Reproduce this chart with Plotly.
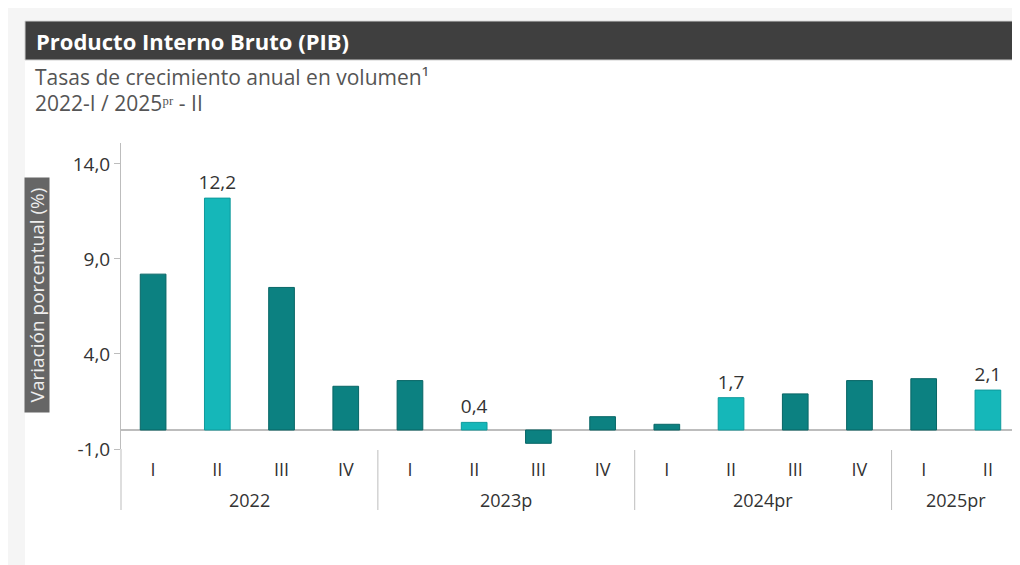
import plotly.graph_objects as go

# datos
quarters = ["I", "II", "III", "IV", "I", "II", "III", "IV", "I", "II", "III", "IV", "I", "II"]
years = ["2022", "2023p", "2024pr", "2025pr"]
year_sizes = [4, 4, 4, 2]
values = [8.2, 12.2, 7.5, 2.3, 2.6, 0.4, -0.7, 0.7, 0.3, 1.7, 1.9, 2.6, 2.7, 2.1]
highlight = [False, True, False, False, False, True, False, False, False, True, False, False, False, True]
y_ticks = [-1.0, 4.0, 9.0, 14.0]
y_ticktext = ["-1,0", "4,0", "9,0", "14,0"]

DARK = "#0c8181"
LIGHT = "#15b7b9"
FONT = "Open Sans"

# page has an 8px body margin; positions below are in screenshot pixels
OFF = 8
L, T, W, H = 121, 143, 899, 306          # plot area (screenshot coords)
FIG_W, FIG_H = 1020 - OFF, 565 - OFF


def px(x):
    return (x - L) / W


def py(y):
    return (T + H - y) / H


x = list(range(len(values)))
colors = [LIGHT if h else DARK for h in highlight]
line_colors = ["#0e9a9c" if h else "#086666" for h in highlight]
labels = [f"{v:.1f}".replace(".", ",") if h else "" for v, h in zip(values, highlight)]

fig = go.Figure()
fig.add_trace(go.Bar(
    x=x, y=values, width=0.4,
    marker=dict(color=colors, line=dict(color=line_colors, width=1)),
    text=labels, textposition="outside", cliponaxis=False, constraintext="none",
    textfont=dict(family=FONT, size=19, color="#333333"),
    hoverinfo="y", showlegend=False,
))

shapes = [
    # white panel inside the grey frame
    dict(type="rect", xref="paper", yref="paper", x0=px(25), x1=px(1030), y0=py(575), y1=py(20),
         fillcolor="white", line_width=0, layer="below"),
    # title bar
    dict(type="rect", xref="paper", yref="paper", x0=px(25), x1=px(1030), y0=py(60), y1=py(21),
         fillcolor="#3f3f3f", line=dict(color="#cfcfcf", width=1), layer="below"),
    # y axis extension
    dict(type="line", xref="paper", yref="paper", x0=0, x1=0, y0=py(510), y1=0,
         line=dict(color="#bdbdbd", width=1)),
]

annotations = [
    dict(text="<b>Producto Interno Bruto (PIB)</b>", xref="paper", yref="paper",
         x=px(34), y=py(41), xanchor="left", yanchor="middle", showarrow=False,
         font=dict(family=FONT, size=22, color="white")),
    dict(text="Tasas de crecimiento anual en volumen¹", xref="paper", yref="paper",
         x=px(33), y=py(77), xanchor="left", yanchor="middle", showarrow=False,
         font=dict(family=FONT, size=21, color="#555555")),
    dict(text="2022-I / 2025ᵖʳ - II", xref="paper", yref="paper",
         x=px(33), y=py(103), xanchor="left", yanchor="middle", showarrow=False,
         font=dict(family=FONT, size=21, color="#555555")),
    dict(text="Variación porcentual (%)", xref="paper", yref="paper",
         x=px(37), y=py(295), xanchor="center", yanchor="middle", showarrow=False,
         textangle=-90, bgcolor="#666666", borderpad=0, width=234, height=24,
         font=dict(family=FONT, size=19, color="#eeeeee")),
]

# year groups and separators
start = 0
for i, (yr, n) in enumerate(zip(years, year_sizes)):
    annotations.append(dict(text=yr, xref="x", yref="paper", x=start + (n - 1) / 2, y=py(500),
                            xanchor="center", yanchor="middle", showarrow=False,
                            font=dict(family=FONT, size=18, color="#333333")))
    if i > 0:
        shapes.append(dict(type="line", xref="x", yref="paper", x0=start - 0.5, x1=start - 0.5,
                           y0=py(510), y1=py(450), line=dict(color="#bdbdbd", width=1)))
    start += n

fig.update_layout(
    width=FIG_W, height=FIG_H,
    margin=dict(l=L - OFF, r=FIG_W - (L - OFF) - W, t=T - OFF, b=FIG_H - (T - OFF) - H),
    paper_bgcolor="#f5f5f5", plot_bgcolor="white",
    separators=",.",
    font=dict(family=FONT, color="#333333"),
    shapes=shapes, annotations=annotations,
)
fig.update_xaxes(
    range=[-0.5, len(values) - 0.5], tickvals=x, ticktext=quarters,
    showgrid=False, zeroline=False, showline=False,
    ticks="outside", ticklen=4, tickcolor="rgba(0,0,0,0)",
    tickfont=dict(family=FONT, size=18, color="#333333"),
)
fig.update_yaxes(
    range=[-1.0, 15.1], tickvals=y_ticks, ticktext=y_ticktext,
    showgrid=False, showline=True, linecolor="#bdbdbd", linewidth=1,
    zeroline=True, zerolinecolor="#bdbdbd", zerolinewidth=2,
    ticks="outside", ticklen=6, tickcolor="#bdbdbd",
    tickfont=dict(family=FONT, size=19, color="#333333"),
)

fig.write_html("out.html")
